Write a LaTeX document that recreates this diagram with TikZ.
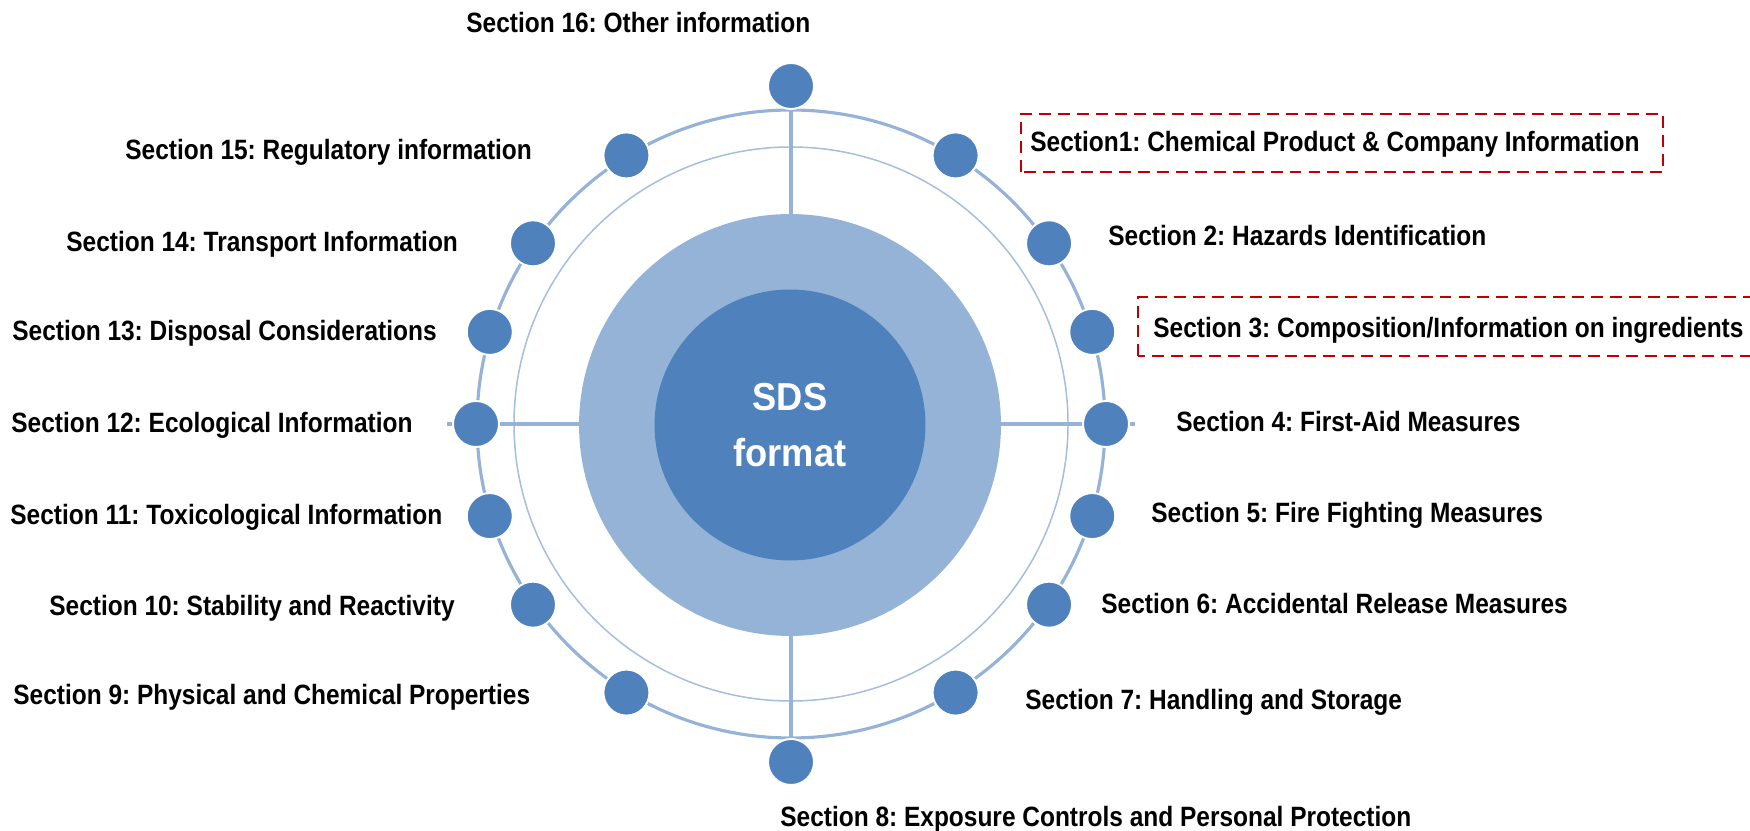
\documentclass[tikz,border=0pt]{standalone}
\usepackage{fontspec}
\usetikzlibrary{backgrounds}
\newfontfamily\labelfont{Liberation Sans}[FakeStretch=0.876]
\newfontfamily\corefont{Liberation Sans}[FakeStretch=0.93]
\definecolor{dotblue}{HTML}{4F81BD}
\definecolor{paleblue}{HTML}{95B3D7}
\definecolor{boxred}{HTML}{C00000}
\tikzset{
	dot/.style={circle,fill=dotblue,draw=white,line width=1.1pt,minimum size=0.92cm,inner sep=0pt},
	secname/.style={anchor=base west,inner sep=0pt,font=\labelfont\bfseries\fontsize{15.9}{19}\selectfont\frenchspacing},
	spoke/.style={paleblue,line width=2.5pt},
	redbox/.style={boxred,line width=1.4pt,dash pattern=on 6.8pt off 4pt}
}
\begin{document}
\begin{tikzpicture}[x=0.02cm,y=0.02cm]
	\useasboundingbox (0,0) rectangle (1750,831);
	\coordinate (c) at (791,407);
	% the sixteen dots on the ring
	\node[dot] (d16) at ([shift={(90:338)}]c) {};
	\node[dot] (d8) at ([shift={(270:338)}]c) {};
	\foreach \n/\a in {1/58.5,2/35,3/17,4/0,5/-17,6/-35,7/-58.5,9/238.5,10/215,11/197,12/180,13/163,14/145,15/121.5}{%
		\node[dot] (d\n) at ([shift={(\a:315)}]c) {};
	}
	% centre of the wheel
	\node[circle,fill=dotblue,minimum size=5.42cm,inner sep=0pt,text=white,align=center,
		font=\corefont\bfseries\fontsize{22.2}{32.3}\selectfont] (core) at (790,406) {SDS\\format};
	\begin{scope}[on background layer]
		\draw[paleblue,line width=1.8pt] (c) circle [radius=314];
		\draw[paleblue!85,line width=0.85pt] (c) circle [radius=277];
		\draw[spoke] (d16) -- (d8);
		\draw[spoke] ([xshift=-0.1cm]d12.west) -- ([xshift=0.1cm]d4.east);
		\node[circle,fill=paleblue,minimum size=8.44cm,inner sep=0pt] (outer) at (790,406) {};
	\end{scope}
	% section names
	\node[secname] (s16) at (466,798) {Section 16: Other information};
	\node[secname] (s15) at (125,671) {Section 15: Regulatory information};
	\node[secname] (s14) at (66,579) {Section 14: Transport Information};
	\node[secname] (s13) at (12,490) {Section 13: Disposal Considerations};
	\node[secname] (s12) at (11,398) {Section 12: Ecological Information};
	\node[secname] (s11) at (10,306) {Section 11: Toxicological Information};
	\node[secname] (s10) at (49,215) {Section 10: Stability and Reactivity};
	\node[secname] (s9) at (13,126) {Section 9: Physical and Chemical Properties};
	\node[secname] (s8) at (780,4) {Section 8: Exposure Controls and Personal Protection};
	\node[secname] (s7) at (1025,121) {Section 7: Handling and Storage};
	\node[secname] (s6) at (1101,217) {Section 6: Accidental Release Measures};
	\node[secname] (s5) at (1151,308) {Section 5: Fire Fighting Measures};
	\node[secname] (s4) at (1176,399) {Section 4: First-Aid Measures};
	\node[secname] (s3) at (1153,493) {Section 3: Composition/Information on ingredients};
	\node[secname] (s2) at (1108,585) {Section 2: Hazards Identification};
	\node[secname] (s1) at (1030,679) {Section1: Chemical Product \& Company Information};
	% dashed boxes round sections 1 and 3
	\draw[redbox] (1021,659) rectangle (1663,717);
	\draw[redbox] (1138,475) rectangle (1775,534);
\end{tikzpicture}
\end{document}
